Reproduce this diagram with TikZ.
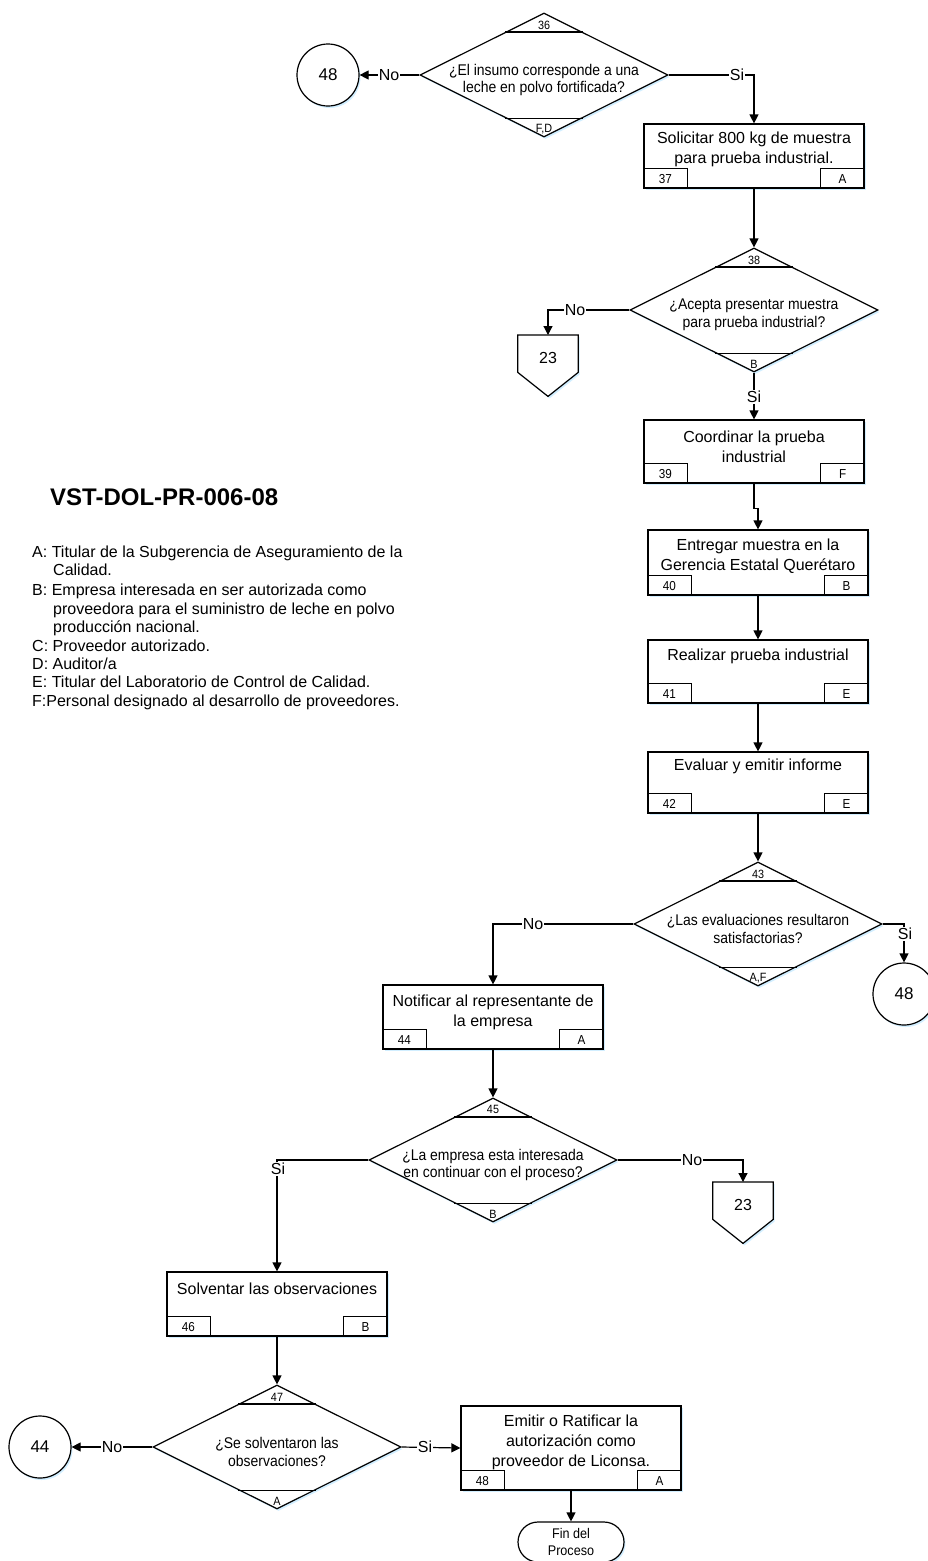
\documentclass[tikz,border=0pt]{standalone}
\usepackage{fontspec}
\setmainfont{Liberation Sans}
\newfontfamily\narrowfont{Liberation Sans}[FakeStretch=0.9]
\usetikzlibrary{arrows.meta,shapes.geometric,shapes.misc,shadows}

\tikzset{
  x=1pt, y=-1pt,
  thinline/.style={line width=1.2pt, draw=black},
  softshadow/.style={drop shadow={shadow xshift=1.5pt, shadow yshift=-2pt, fill=blue!35!cyan, opacity=0.18}},
  stepbox/.style={rectangle, thinline, fill=white, softshadow, minimum width=220, minimum height=64, inner sep=0},
  decbox/.style={diamond, thinline, fill=white, softshadow, minimum width=248, minimum height=124, inner sep=0},
  connector/.style={circle, thinline, fill=white, softshadow, minimum size=62, inner sep=0,
    font=\fontsize{17}{19}\selectfont},
  offpage/.style={rectangle, minimum width=60, minimum height=37, inner sep=0},
  endbox/.style={rounded rectangle, thinline, fill=white, softshadow, minimum width=106, minimum height=40,
    inner sep=0, align=center, font=\narrowfont\fontsize{14}{17}\selectfont},
  boxtext/.style={align=center, inner sep=0, font=\fontsize{16}{20}\selectfont},
  tagtext/.style={inner sep=0, font=\narrowfont\fontsize{13}{14}\selectfont},
  numtext/.style={inner sep=0, font=\narrowfont\fontsize{12}{13}\selectfont},
  dectext/.style={align=center, inner sep=0, font=\narrowfont\fontsize{15.5}{17.5}\selectfont},
  flow/.style={thinline, -{Triangle[length=9pt,width=9pt]}},
  lbl/.style={fill=white, inner sep=1pt, font=\fontsize{16}{18}\selectfont},
  legend/.style={anchor=base west, inner sep=0, font=\fontsize{16}{18}\selectfont},
}

% process step: name, x, y, height, text offset from top, text, number, role
\newcommand\procstep[8]{%
  \node[stepbox, minimum height=#4] (#1) at (#2,#3) {};
  \node[boxtext] (#1-txt) at ([shift={(0,#5)}]#1.north) {#6};
  \draw[thinline] (#1.south west) rectangle ([shift={(44,-20)}]#1.south west);
  \node[tagtext] (#1-num) at ([shift={(22,-9.5)}]#1.south west) {#7};
  \draw[thinline] (#1.south east) rectangle ([shift={(-44,-20)}]#1.south east);
  \node[tagtext] (#1-role) at ([shift={(-22,-9.5)}]#1.south east) {#8};
}

% decision: name, x, y, number, question, role
\newcommand\decision[6]{%
  \node[decbox] (#1) at (#2,#3) {};
  \draw[thinline] ([shift={(-39,19.5)}]#1.north) -- ([shift={(39,19.5)}]#1.north);
  \draw[thinline] ([shift={(-39,-19.5)}]#1.south) -- ([shift={(39,-19.5)}]#1.south);
  \node[numtext] (#1-num) at ([shift={(0,12.5)}]#1.north) {#4};
  \node[dectext] (#1-txt) at ([shift={(0,5)}]#1.center) {#5};
  \node[numtext] (#1-role) at ([shift={(0,-8.5)}]#1.south) {#6};
}

% off-page reference: name, x, top y, label
\newcommand\offref[4]{%
  \node[offpage, anchor=north] (#1) at (#2,#3) {};
  \draw[thinline, fill=white, softshadow] (#1.north west) -- (#1.north east) -- (#1.south east)
    -- ([shift={(0,24)}]#1.south) -- (#1.south west) -- cycle;
  \node[inner sep=0, font=\fontsize{16}{18}\selectfont] (#1-txt) at ([shift={(0,4)}]#1.center) {#4};
}

\begin{document}
\begin{tikzpicture}
\path[use as bounding box, fill=white] (0,0) rectangle (927,1561);

% title and legend
\node[anchor=base west, inner sep=0, font=\bfseries\fontsize{24}{26}\selectfont] (title) at (50,505.5) {VST-DOL-PR-006-08};
\node[legend] (lgA)  at (32,557.5) {A: Titular de la Subgerencia de Aseguramiento de la};
\node[legend] (lgA2) at (53,575.5) {Calidad.};
\node[legend] (lgB)  at (32,595.5) {B: Empresa interesada en ser autorizada como};
\node[legend] (lgB2) at (53,614)   {proveedora para el suministro de leche en polvo};
\node[legend] (lgB3) at (53,632.5) {producción nacional.};
\node[legend] (lgC)  at (32,651)   {C: Proveedor autorizado.};
\node[legend] (lgD)  at (32,669.5) {D: Auditor/a};
\node[legend] (lgE)  at (32,687.5) {E: Titular del Laboratorio de Control de Calidad.};
\node[legend] (lgF)  at (32,706)   {F:Personal designado al desarrollo de proveedores.};

% decisions
\decision{d36}{544}{75}{36}{¿El insumo corresponde a una\\leche en polvo fortificada?}{F,D}
\decision{d38}{754}{310}{38}{¿Acepta presentar muestra\\para prueba industrial?}{B}
\decision{d43}{758}{924}{43}{¿Las evaluaciones resultaron\\satisfactorias?}{A,F}
\decision{d45}{493}{1160}{45}{¿La empresa esta interesada\\en continuar con el proceso?}{B}
\decision{d47}{277}{1447}{47}{¿Se solventaron las\\observaciones?}{A}

% process steps
\procstep{b37}{754}{156}{64}{26}{Solicitar 800 kg de muestra\\para prueba industrial.}{37}{A}
\procstep{b39}{754}{451.5}{63}{27.5}{Coordinar la prueba\\industrial}{39}{F}
\procstep{b40}{758}{562.5}{65}{27}{Entregar muestra en la\\Gerencia Estatal Querétaro}{40}{B}
\procstep{b41}{758}{671.5}{63}{17}{Realizar prueba industrial}{41}{E}
\procstep{b42}{758}{782.5}{61}{15}{Evaluar y emitir informe}{42}{E}
\procstep{b44}{493}{1017}{64}{27.5}{Notificar al representante de\\la empresa}{44}{A}
\procstep{b46}{277}{1304}{64}{17}{Solventar las observaciones}{46}{B}
\procstep{b48}{571}{1448}{84}{37}{Emitir o Ratificar la\\autorización como\\proveedor de Liconsa.}{48}{A}

% on-page connectors
\node[connector] (c48a) at (328,75) {48};
\node[connector] (c48b) at (904,994) {48};
\node[connector] (c44) at (40,1447) {44};

% off-page references
\offref{o23a}{548}{335}{23}
\offref{o23b}{743}{1182}{23}

% end of process
\node[endbox] (fin) at (571,1542) {Fin del\\Proceso};

% flow lines
\draw[flow] (d36.west) -- (c48a.east);
\draw[flow] (d36.east) -| (b37.north);
\draw[flow] (b37.south) -- (d38.north);
\draw[flow] (d38.west) -| (o23a.north);
\draw[flow] (d38.south) -- (b39.north);
\draw[flow] (b39.south) -- ++(0,25) -| (b40.north);
\draw[flow] (b40.south) -- (b41.north);
\draw[flow] (b41.south) -- (b42.north);
\draw[flow] (b42.south) -- (d43.north);
\draw[flow] (d43.west) -| (b44.north);
\draw[flow] (d43.east) -| (c48b.north);
\draw[flow] (b44.south) -- (d45.north);
\draw[flow] (d45.east) -| (o23b.north);
\draw[flow] (d45.west) -| (b46.north);
\draw[flow] (b46.south) -- (d47.north);
\draw[flow] (d47.west) -- (c44.east);
\draw[flow] (d47.east) -- (b48.west);
\draw[flow] (b48.south) -- (fin.north);

% branch labels
\node[lbl] (l36no) at (389,75) {No};
\node[lbl] (l36si) at (737,75) {Si};
\node[lbl] (l38no) at (575,310) {No};
\node[lbl] (l38si) at (754,397) {Si};
\node[lbl] (l43no) at (533,924) {No};
\node[lbl] (l43si) at (905,934) {Si};
\node[lbl] (l45no) at (692,1160) {No};
\node[lbl] (l45si) at (278,1169) {Si};
\node[lbl] (l47no) at (112,1447) {No};
\node[lbl] (l47si) at (425,1447) {Si};
\end{tikzpicture}
\end{document}
